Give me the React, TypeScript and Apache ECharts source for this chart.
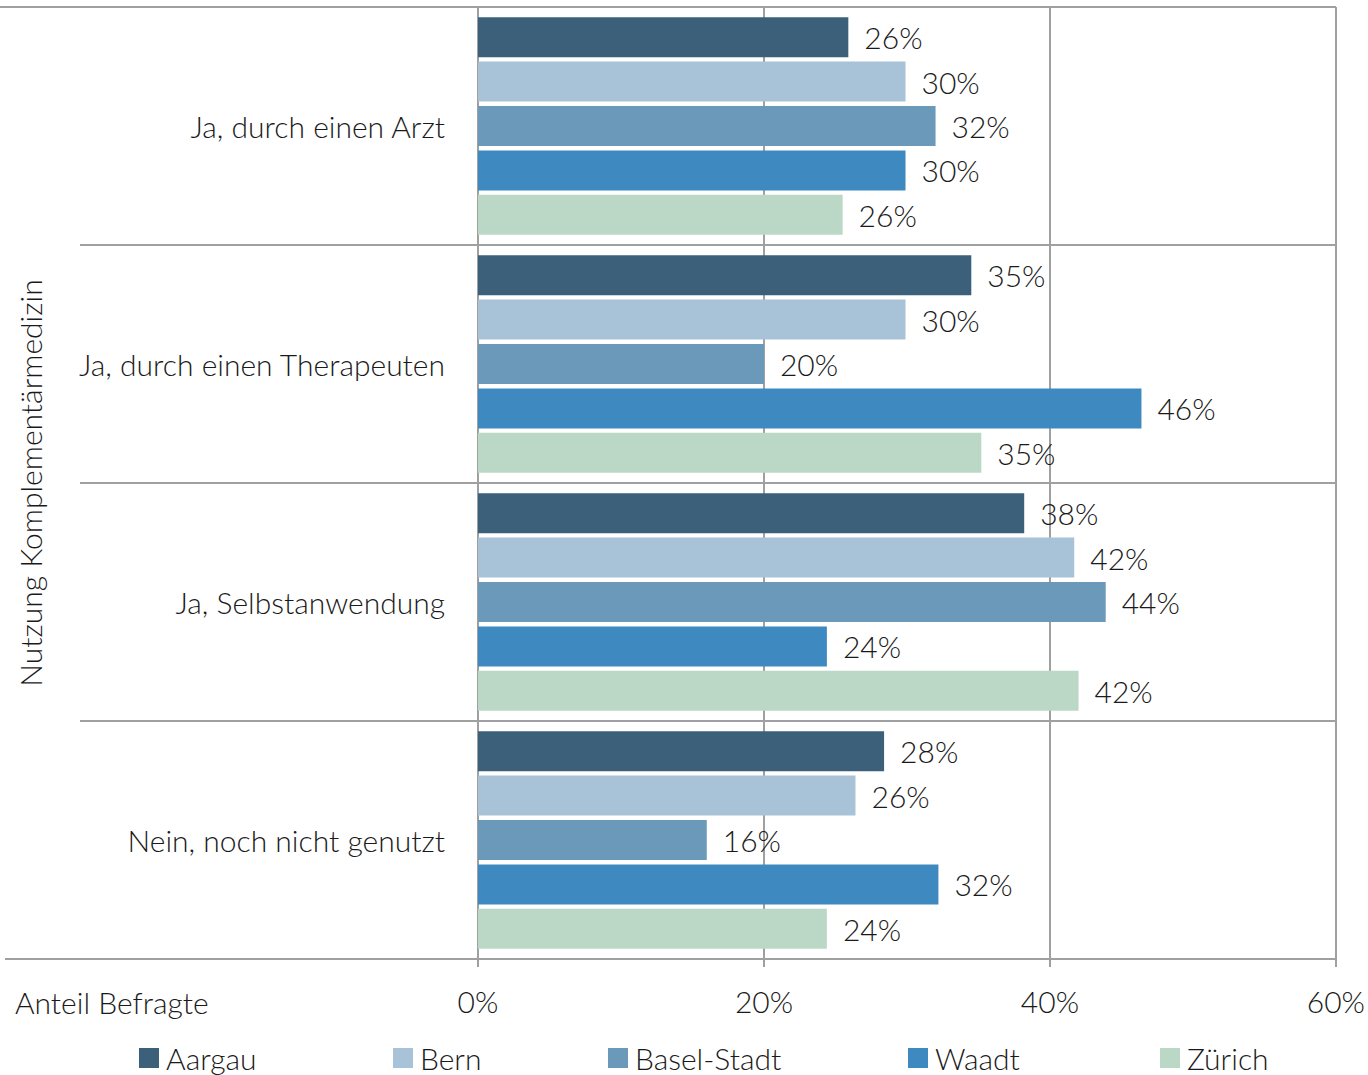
import React, { useEffect, useRef } from "react";
import * as echarts from "echarts";

const categories = [
  "Ja, durch einen Arzt",
  "Ja, durch einen Therapeuten",
  "Ja, Selbstanwendung",
  "Nein, noch nicht genutzt",
];
const seriesNames = ["Aargau", "Bern", "Basel-Stadt", "Waadt", "Zürich"];
const aargau = [25.9, 34.5, 38.2, 28.4];
const bern = [29.9, 29.9, 41.7, 26.4];
const baselStadt = [32.0, 20.0, 43.9, 16.0];
const waadt = [29.9, 46.4, 24.4, 32.2];
const zuerich = [25.5, 35.2, 42.0, 24.4];
const seriesValues = [aargau, bern, baselStadt, waadt, zuerich];
const colors = ["#3c607a", "#a8c3d7", "#6a99ba", "#3e89bf", "#bbd8c6"];
const xTicks = [0, 20, 40, 60];
const legendLeft = [139, 393, 608, 908, 1160];

const FONT = "Lato";
const FS = 30;
const TEXT = "#1a1a1a";
const GRID_C = "#a0a0a0";

export default function App() {
  const ref = useRef<HTMLDivElement>(null);
  useEffect(() => {
    if (!ref.current) return;
    const chart = echarts.init(ref.current, null, { renderer: "svg" });
    const gl = 478, gr = 1336, gt = 7, gb = 959;
    chart.setOption({
      animation: false,
      textStyle: { fontFamily: FONT, fontWeight: 300 },
      grid: { left: gl, right: 1368 - gr, top: gt, bottom: 1075 - gb, containLabel: false },
      xAxis: {
        type: "value",
        min: xTicks[0],
        max: xTicks[xTicks.length - 1],
        interval: 20,
        axisLine: { show: true, lineStyle: { color: GRID_C, width: 2 } },
        axisTick: { show: true, length: 8, lineStyle: { color: GRID_C, width: 2 } },
        splitLine: { show: true, lineStyle: { color: GRID_C, width: 2 } },
        axisLabel: {
          formatter: (v: number) => v + "%",
          fontSize: FS,
          color: TEXT,
          fontFamily: FONT,
          fontWeight: 300,
          margin: 27,
        },
      },
      yAxis: {
        type: "category",
        data: categories,
        inverse: true,
        axisLine: { show: true, lineStyle: { color: GRID_C, width: 2 } },
        axisTick: { show: true, length: 398, interval: 0, lineStyle: { color: GRID_C, width: 2 } },
        splitLine: { show: true, interval: 0, lineStyle: { color: GRID_C, width: 2 } },
        axisLabel: {
          fontSize: FS,
          color: TEXT,
          fontFamily: FONT,
          fontWeight: 300,
          margin: 33,
          interval: 0,
        },
      },
      legend: seriesNames.map((name, i) => ({
        data: [name],
        left: legendLeft[i],
        top: 1043,
        itemWidth: 20,
        itemHeight: 20,
        icon: "rect",
        padding: 0,
        textStyle: { fontSize: FS, color: TEXT, fontFamily: FONT, fontWeight: 300, padding: [0, 0, 0, 2] },
      })),
      graphic: [
        { type: "line", z: 10, shape: { x1: 0, y1: gt, x2: gr, y2: gt }, style: { stroke: GRID_C, lineWidth: 2 } },
        { type: "line", z: 10, shape: { x1: 5, y1: gb, x2: gl, y2: gb }, style: { stroke: GRID_C, lineWidth: 2 } },
        {
          type: "text",
          x: 15,
          y: 1002,
          style: { text: "Anteil Befragte", font: `300 ${FS}px ${FONT}`, fill: TEXT, verticalAlign: "middle", align: "left" },
        },
        {
          type: "text",
          x: 30,
          y: (gt + gb) / 2,
          rotation: Math.PI / 2,
          style: { text: "Nutzung Komplementärmedizin", font: `300 ${FS}px ${FONT}`, fill: TEXT, verticalAlign: "middle", align: "center" },
        },
      ],
      series: seriesNames.map((name, i) => ({
        name,
        type: "bar",
        data: seriesValues[i],
        barWidth: 40,
        barGap: "11%",
        itemStyle: { color: colors[i] },
        label: {
          show: true,
          position: "right",
          distance: 16,
          formatter: (p: any) => Math.round(p.value) + "%",
          fontSize: FS,
          color: TEXT,
          fontFamily: FONT,
          fontWeight: 300,
        },
      })),
    });
    return () => chart.dispose();
  }, []);
  return (
    <div
      ref={ref}
      style={{ position: "absolute", left: 0, top: 0, width: 1368, height: 1075, overflow: "hidden" }}
    />
  );
}
